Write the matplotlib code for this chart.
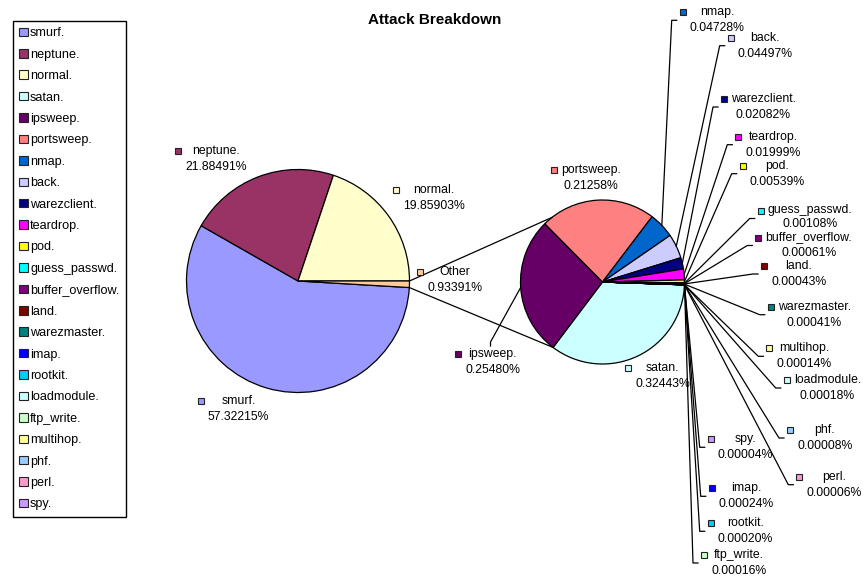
import matplotlib
matplotlib.use('Agg')
import matplotlib.pyplot as plt
from matplotlib.patches import Patch
import numpy as np

plt.rcParams['font.family'] = ['Liberation Sans', 'DejaVu Sans']

# ---------------- data ----------------
main_labels = ['smurf.', 'neptune.', 'normal.', 'Other']
main_values = [57.32215, 21.88491, 19.85903, 0.93391]
main_colors = ['#9999FF', '#993366', '#FFFFCC', '#FFCC99']

sub_labels = ['satan.', 'ipsweep.', 'portsweep.', 'nmap.', 'back.', 'warezclient.',
              'teardrop.', 'pod.', 'guess_passwd.', 'buffer_overflow.', 'land.',
              'warezmaster.', 'imap.', 'rootkit.', 'loadmodule.', 'ftp_write.',
              'multihop.', 'phf.', 'perl.', 'spy.']
sub_values = [0.32443, 0.25480, 0.21258, 0.04728, 0.04497, 0.02082,
              0.01999, 0.00539, 0.00108, 0.00061, 0.00043,
              0.00041, 0.00024, 0.00020, 0.00018, 0.00016,
              0.00014, 0.00008, 0.00006, 0.00004]
sub_colors = ['#CCFFFF', '#660066', '#FF8080', '#0066CC', '#CCCCFF', '#000080',
              '#FF00FF', '#FFFF00', '#00FFFF', '#800080', '#800000',
              '#008080', '#0000FF', '#00CCFF', '#CCFFFF', '#CCFFCC',
              '#FFFF99', '#99CCFF', '#FF99CC', '#CC99FF']

legend_order = ['smurf.', 'neptune.', 'normal.', 'satan.', 'ipsweep.', 'portsweep.',
                'nmap.', 'back.', 'warezclient.', 'teardrop.', 'pod.', 'guess_passwd.',
                'buffer_overflow.', 'land.', 'warezmaster.', 'imap.', 'rootkit.',
                'loadmodule.', 'ftp_write.', 'multihop.', 'phf.', 'perl.', 'spy.']

# ---------------- layout (pixel space, y measured from top) ----------------
W, H = 863, 582
MAIN_C, MAIN_R = (298.0, 281.0), 111.5
SUB_C, SUB_R = (602.5, 282.0), 82.0
SUB_START = -2.0

# key positions of data labels
key_pos = {
    'smurf.': (200.7, 400.7), 'neptune.': (178.3, 150.7), 'normal.': (396, 190),
    'Other': (420, 272),
    'portsweep.': (554, 170), 'satan.': (628, 368), 'ipsweep.': (458, 354),
    'nmap.': (682.7, 12.3), 'back.': (730.7, 37.7), 'warezclient.': (724, 99),
    'teardrop.': (738.3, 136.7), 'pod.': (742.7, 165.7),
    'guess_passwd.': (760.7, 210.5), 'buffer_overflow.': (758.3, 237.5),
    'land.': (764, 266), 'warezmaster.': (770.7, 306.7), 'multihop.': (769.3, 348.3),
    'loadmodule.': (786.7, 380), 'phf.': (790, 430), 'perl.': (799.3, 476.7),
    'spy.': (710.7, 439.3), 'imap.': (711.7, 488.3), 'rootkit.': (710.7, 523.3),
    'ftp_write.': (704, 555),
}
line_gap = {'guess_passwd.': 13.5}
side_leader = ['nmap.', 'back.', 'warezclient.', 'teardrop.', 'pod.', 'guess_passwd.',
               'buffer_overflow.', 'land.', 'warezmaster.', 'multihop.', 'loadmodule.',
               'phf.', 'perl.', 'spy.', 'imap.', 'rootkit.', 'ftp_write.']
LINE_GAP = 16
FS = 8.8


def Y(y):
    return H - y


fig = plt.figure(figsize=(W / 100, H / 100), dpi=100)
ax = fig.add_axes([0, 0, 1, 1])

wedge_kw = dict(edgecolor='black', linewidth=0.9)
main_w, _ = ax.pie(main_values, colors=main_colors, startangle=-360 * main_values[-1] / sum(main_values),
                   counterclock=False, center=(MAIN_C[0], Y(MAIN_C[1])), radius=MAIN_R,
                   wedgeprops=wedge_kw, frame=False)
sub_w, _ = ax.pie(sub_values, colors=sub_colors, startangle=SUB_START, counterclock=False,
                  center=(SUB_C[0], Y(SUB_C[1])), radius=SUB_R,
                  wedgeprops=wedge_kw, frame=False)

ax.set_xlim(0, W)
ax.set_ylim(0, H)
ax.set_aspect('equal')
ax.axis('off')


def edge_pt(center, r, ang):
    a = np.deg2rad(ang)
    return center[0] + r * np.cos(a), Y(center[1]) + r * np.sin(a)


# connector lines between the pies (edges of the "Other" wedge)
ow = main_w[-1]
for a_main, a_sub in [(ow.theta2, 128), (ow.theta1, -127)]:
    p1 = edge_pt(MAIN_C, MAIN_R, a_main)
    p2 = edge_pt(SUB_C, SUB_R, a_sub)
    ax.plot([p1[0], p2[0]], [p1[1], p2[1]], color='black', lw=0.9)

# data labels
all_labels = main_labels + sub_labels
all_values = main_values + sub_values
all_colors = main_colors + sub_colors
texts = {}
for lab, val in zip(all_labels, all_values):
    t1 = ax.text(0, 0, lab, fontsize=FS, ha='center', va='center', color='black')
    t2 = ax.text(0, 0, f'{val:.5f}%', fontsize=FS, ha='center', va='center', color='black')
    texts[lab] = (t1, t2)

fig.canvas.draw()
r = fig.canvas.get_renderer()
for lab, col in zip(all_labels, all_colors):
    kx, ky = key_pos[lab]
    t1, t2 = texts[lab]
    wmax = max(t1.get_window_extent(r).width, t2.get_window_extent(r).width)
    cx = kx + 7 + wmax / 2
    t1.set_position((cx, Y(ky)))
    t2.set_position((cx, Y(ky + line_gap.get(lab, LINE_GAP))))
    ax.plot([kx], [Y(ky)], marker='s', markersize=5, markerfacecolor=col,
            markeredgecolor='#222222', markeredgewidth=0.8, linestyle='none')

# leader lines from secondary-pie slices
sub_mid = {lab: (w.theta1 + w.theta2) / 2 for lab, w in zip(sub_labels, sub_w)}
for lab in side_leader:
    kx, ky = key_pos[lab]
    sx, sy = edge_pt(SUB_C, SUB_R, sub_mid[lab])
    ax_, ay_ = kx - 11, Y(ky + 8)
    ax.plot([sx, ax_, kx - 6], [sy, ay_, ay_], color='black', lw=0.9)

# ipsweep leader attaches at the top of its label
kx, ky = key_pos['ipsweep.']
t1 = texts['ipsweep.'][0]
sx, sy = edge_pt(SUB_C, SUB_R, sub_mid['ipsweep.'])
tx = t1.get_position()[0] - 2
ax.plot([sx, tx, tx], [sy, Y(ky - 12), Y(ky - 8)], color='black', lw=0.9)

# title
fig.text(435 / W, 1 - 20 / H, 'Attack Breakdown', ha='center', va='center',
         fontsize=11, fontweight='bold')

# legend
color_of = dict(zip(all_labels, all_colors))
handles = [Patch(facecolor=color_of[l], edgecolor='#222222', linewidth=0.8) for l in legend_order]
leg = fig.legend(handles, legend_order, loc='upper left',
                 bbox_to_anchor=(13 / W, 1 - 21 / H), borderaxespad=0,
                 fontsize=9.1, frameon=True, fancybox=False, framealpha=1,
                 edgecolor='black', handlelength=0.65, handleheight=0.65,
                 handletextpad=0.2, labelspacing=0.745, borderpad=0.5)
leg.get_frame().set_linewidth(1.0)

fig.savefig('out.png', dpi=100)
